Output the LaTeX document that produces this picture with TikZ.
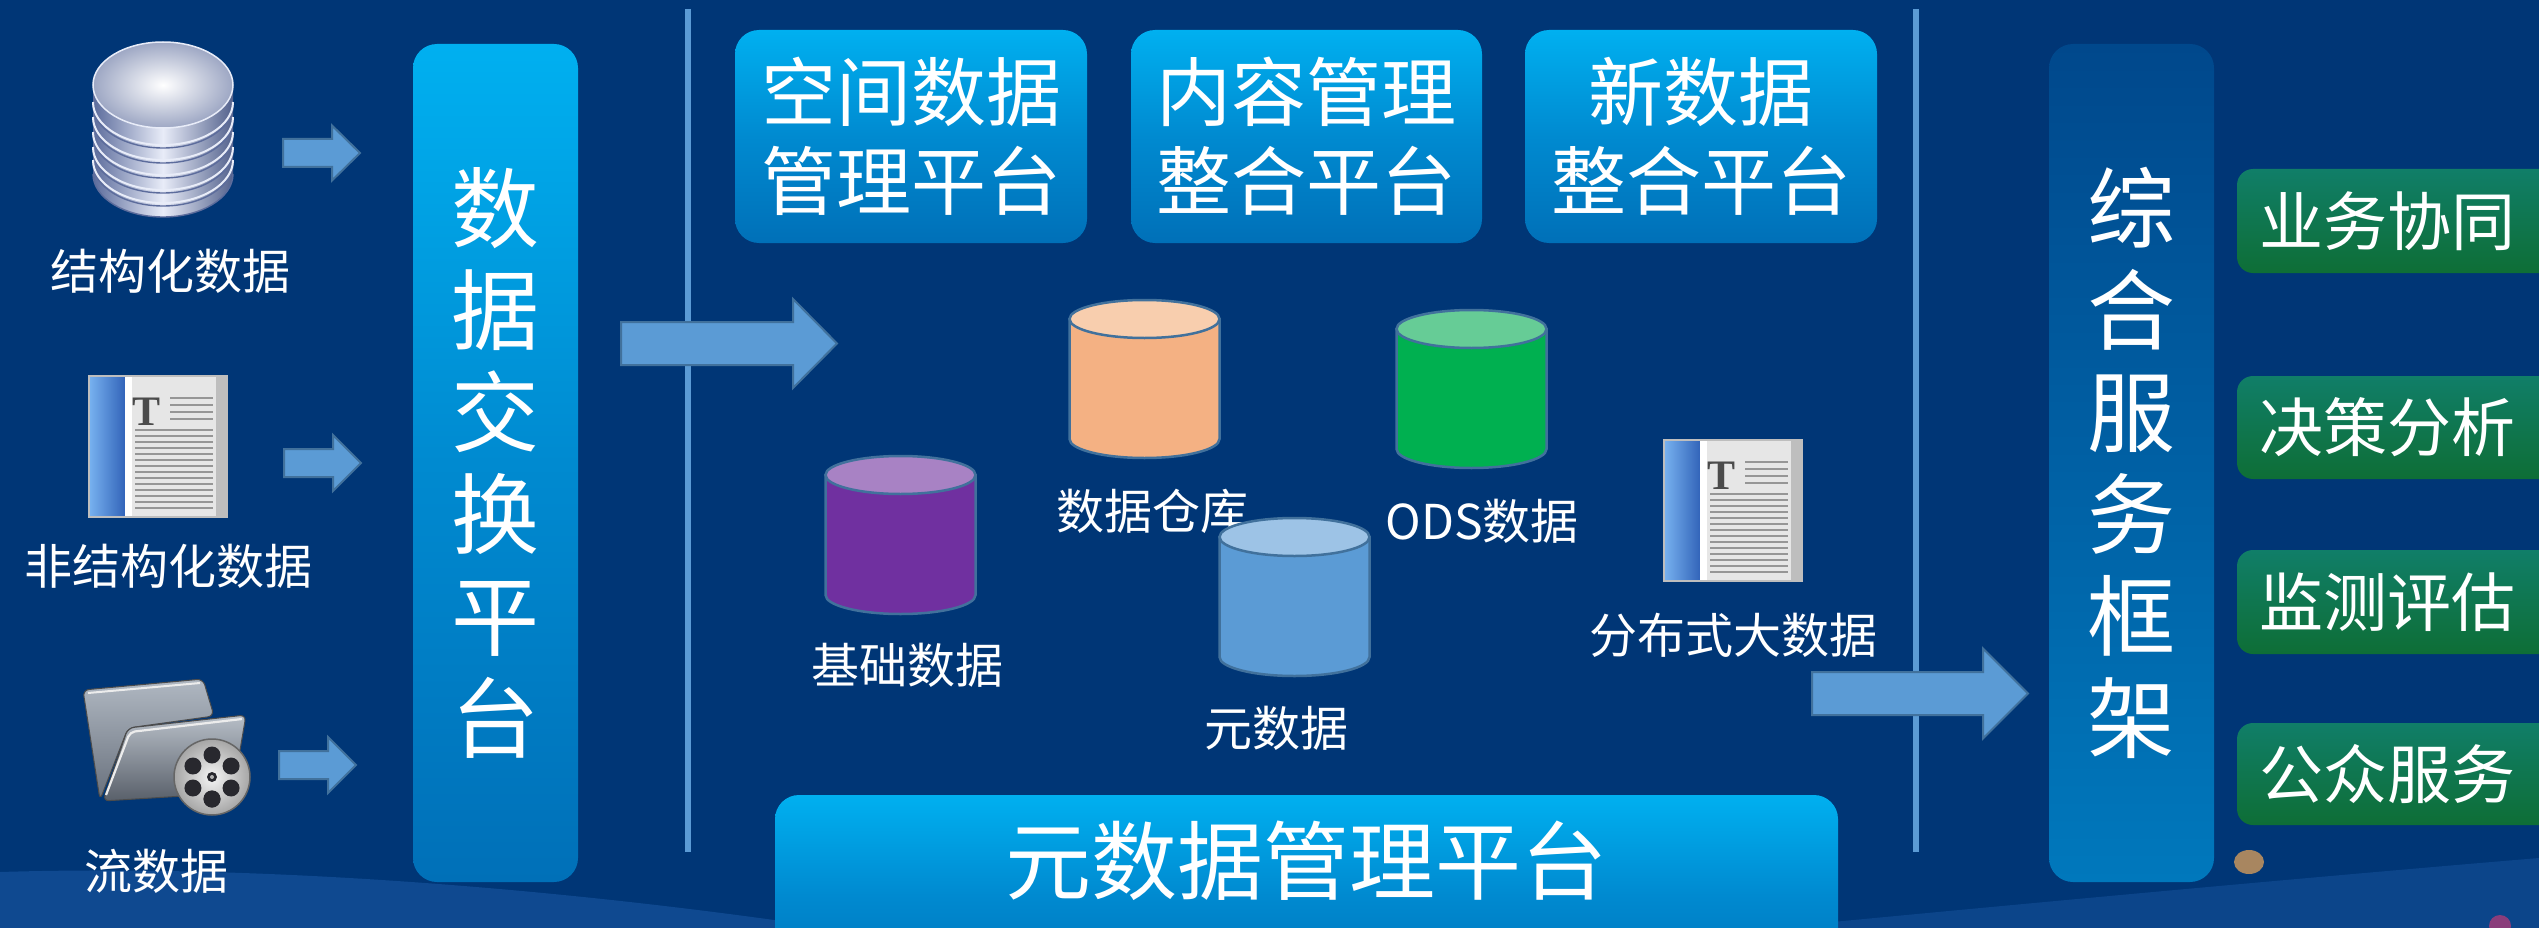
\documentclass[tikz,border=0pt]{standalone}
\usepackage{fontspec}
\setmainfont{Noto Sans CJK SC}
\newfontfamily\iconserif{Liberation Serif}

\definecolor{bgnavy}{RGB}{0,54,118}
\definecolor{swooshblue}{RGB}{30,92,170}
\definecolor{cyantop}{RGB}{0,176,240}
\definecolor{cyanmid}{RGB}{0,138,208}
\definecolor{cyanbot}{RGB}{0,112,184}
\definecolor{svctop}{RGB}{0,72,140}
\definecolor{svcbot}{RGB}{0,120,188}
\definecolor{greentop}{RGB}{16,126,104}
\definecolor{greenbot}{RGB}{14,110,54}
\definecolor{arrowfill}{RGB}{91,155,213}
\definecolor{arrowline}{RGB}{65,113,156}
\definecolor{cylline}{RGB}{65,113,156}
\definecolor{orangebody}{RGB}{244,177,131}
\definecolor{orangetop}{RGB}{248,206,174}
\definecolor{greenbody}{RGB}{0,176,80}
\definecolor{greentopface}{RGB}{102,204,150}
\definecolor{purplebody}{RGB}{112,48,160}
\definecolor{purpletop}{RGB}{168,130,196}
\definecolor{bluebody}{RGB}{91,155,213}
\definecolor{bluetop}{RGB}{157,195,230}
\definecolor{spinelight}{RGB}{120,178,240}
\definecolor{spinedark}{RGB}{50,100,185}
\definecolor{docpage}{RGB}{230,230,230}
\definecolor{docedge}{RGB}{190,190,190}
\definecolor{docink}{RGB}{75,75,75}
\definecolor{docrule}{RGB}{150,150,150}
\definecolor{silverlight}{RGB}{232,236,248}
\definecolor{silverdark}{RGB}{92,108,156}
\definecolor{folderlight}{RGB}{176,184,194}
\definecolor{folderdark}{RGB}{104,112,124}
\definecolor{reeldark}{RGB}{40,40,46}
\definecolor{dottan}{RGB}{168,134,96}
\definecolor{dotpink}{RGB}{170,60,120}

% block arrow: left x, centre y, head base x, tip x, half body height, half head height
\newcommand\blockarrow[6]{%
  \filldraw[blockarrow] (#1,{#2-#5}) -- (#3,{#2-#5}) -- (#3,{#2-#6}) -- (#4,#2)
    -- (#3,{#2+#6}) -- (#3,{#2+#5}) -- (#1,{#2+#5}) -- cycle;}

% upright data cylinder: centre x, centre y of top face, body colour, top colour
\newcommand\datacyl[4]{%
  \filldraw[cylside, fill=#3] ({#1-75},#2) -- ({#1-75},{#2+120})
    .. controls ({#1-75},{#2+130.5}) and ({#1-41.4},{#2+139}) .. (#1,{#2+139})
    .. controls ({#1+41.4},{#2+139}) and ({#1+75},{#2+130.5}) .. ({#1+75},{#2+120})
    -- ({#1+75},#2) -- cycle;
  \filldraw[cylside, fill=#4] (#1,#2) ellipse [x radius=75, y radius=19];}

\tikzset{
  docicon/.pic={
    \fill[docpage] (0,0) rectangle (138,141);
    \fill[docedge] (127,0) rectangle (138,141);
    \shade[left color=spinelight, right color=spinedark] (0,0) rectangle (36,141);
    \fill[white] (36,0) rectangle (43,141);
    \draw[docedge, line width=1.5pt] (0,0) rectangle (138,141);
    \foreach \yy in {22,29,36,43} \draw[docrule, line width=2.2pt] (81,\yy) -- (124,\yy);
    \foreach \yy in {54,60,...,132} \draw[docrule, line width=2.2pt] (46,\yy) -- (124,\yy);
    \node[text=docink, font=\iconserif\bfseries\fontsize{42}{42}\selectfont, inner sep=0pt] (glyph) at (57.5,36) {T};
  }
}

\begin{document}
\begin{tikzpicture}[x=1pt, y=-1pt,
  platform/.style={rounded corners=24pt, top color=cyantop, bottom color=cyanbot,
    middle color=cyanmid, text=white, inner sep=0pt, align=center},
  svcframe/.style={rounded corners=24pt, top color=svctop, bottom color=svcbot,
    text=white, inner sep=0pt, align=center},
  svcbox/.style={rounded corners=16pt, top color=greentop, bottom color=greenbot, inner sep=0pt},
  svctext/.style={text=white, font=\fontsize{64}{70}\selectfont, inner sep=0pt},
  lbl/.style={text=white, font=\fontsize{48}{56}\selectfont, inner sep=0pt},
  blockarrow/.style={fill=arrowfill, draw=arrowline, line width=2pt, line join=miter},
  divider/.style={draw=arrowfill, line width=6.5pt},
  cylside/.style={draw=cylline, line width=2.5pt},
  ring/.style={draw=silverlight, line width=2pt},
  ringshade/.style={draw=silverdark, line width=1.4pt}
]
\useasboundingbox (0,0) rectangle (2539,928);
\clip (0,0) rectangle (2539,928);

% ---- background ----
\fill[bgnavy] (0,0) rectangle (2539,928);
\fill[swooshblue, opacity=0.5] (0,872) .. controls (260,864) and (560,888) .. (830,928) -- (0,928) -- cycle;
\fill[swooshblue, opacity=0.4] (1770,928) .. controls (2020,904) and (2300,878) .. (2539,858) -- (2539,928) -- cycle;
\fill[dottan] (2249,862) ellipse [x radius=15, y radius=12];
\fill[dotpink, opacity=0.8] (2500,926) circle [radius=11];

% ---- dividers ----
\draw[divider] (688,9) -- (688,852);
\draw[divider] (1916,9) -- (1916,852);

% ---- sources ----
% stacked database
\shade[left color=silverdark, right color=silverdark!90!black, middle color=silverlight]
  (93,85) -- (93,174) .. controls (93,197.75) and (124.34,217) .. (163,217)
  .. controls (201.66,217) and (233,197.75) .. (233,174) -- (233,85) -- cycle;
\foreach \ry in {102,117,132,147,160} {
  \draw[ringshade] (93,{\ry+3}) .. controls (93,{\ry+26.75}) and (124.34,{\ry+46}) .. (163,{\ry+46})
    .. controls (201.66,{\ry+46}) and (233,{\ry+26.75}) .. (233,{\ry+3});
  \draw[ring] (93,\ry) .. controls (93,{\ry+23.75}) and (124.34,{\ry+43}) .. (163,{\ry+43})
    .. controls (201.66,{\ry+43}) and (233,{\ry+23.75}) .. (233,\ry);
}
\draw[ringshade] (93,174) .. controls (93,197.75) and (124.34,217) .. (163,217)
  .. controls (201.66,217) and (233,197.75) .. (233,174);
\shade[inner color=white, outer color=silverdark!60!white] (163,85) ellipse [x radius=70, y radius=43];
\draw[silverlight, line width=1.5pt] (163,85) ellipse [x radius=70, y radius=43];

% document
\pic (docA) at (89,376) {docicon};

% video folder
\shade[top color=folderlight, bottom color=folderdark, draw=black!70, line width=1pt, rounded corners=6pt]
  (83,690) -- (203,679) -- (214,716) -- (128,728) -- (100,800) -- cycle;
\shade[top color=folderlight!90!white, bottom color=folderdark!85!black, draw=black!70, line width=1pt, rounded corners=6pt]
  (128,728) -- (246,715) -- (238,762) -- (200,795) -- (103,801) -- cycle;
\draw[white!85!gray, line width=2.2pt, rounded corners=5pt] (106,795) -- (130,732) -- (242,719);
\draw[white!85!gray, line width=2pt, rounded corners=5pt] (88,693) -- (200,683);
\shade[inner color=white!92!gray, outer color=gray!70, draw=black!60, line width=1.5pt]
  (212,777) circle [radius=38];
\foreach \a in {90,150,...,450} \fill[reeldark] (212,777) ++(\a:22) circle [radius=8.5];
\fill[reeldark] (212,777) circle [radius=5];
\fill[gray!60] (212,777) circle [radius=2];

\node[lbl] (lblStruct) at (170,271) {结构化数据};
\node[lbl] (lblUnstruct) at (168,566) {非结构化数据};
\node[lbl] (lblStream) at (156,871) {流数据};

\blockarrow{283}{153}{332}{360}{14}{27.5}
\blockarrow{284}{463}{333}{361}{14}{28}
\blockarrow{279}{765}{328}{356}{14}{28}

% ---- exchange platform ----
\node[platform, minimum width=165pt, minimum height=838pt,
  font=\fontsize{88}{102}\selectfont] (exchange) at (495.5,463) {数\\据\\交\\换\\平\\台};

\blockarrow{621}{343.5}{793}{837}{21.5}{44.5}

% ---- integration platforms ----
\node[platform, minimum width=352pt, minimum height=213pt,
  font=\fontsize{75}{89}\selectfont] (spatial) at (911,136.5) {空间数据\\管理平台};
\node[platform, minimum width=351pt, minimum height=213pt,
  font=\fontsize{75}{89}\selectfont] (content) at (1306.5,136.5) {内容管理\\整合平台};
\node[platform, minimum width=352pt, minimum height=213pt,
  font=\fontsize{75}{89}\selectfont] (newdata) at (1701,136.5) {新数据\\整合平台};

% ---- data stores ----
\datacyl{1144.5}{319}{orangebody}{orangetop}
\datacyl{1471.5}{329}{greenbody}{greentopface}
\datacyl{900.5}{475}{purplebody}{purpletop}
\node[lbl] (lblWarehouse) at (1152,511) {数据仓库};
\node[lbl] (lblOds) at (1482,521) {ODS数据};
\datacyl{1294.5}{537}{bluebody}{bluetop}
\node[lbl] (lblBase) at (907,665) {基础数据};
\node[lbl] (lblMeta) at (1276,728) {元数据};

\pic (docB) at (1664,440) {docicon};
\node[lbl] (lblDist) at (1733,635) {分布式大数据};

% ---- metadata platform ----
\node[platform, minimum width=1063pt, minimum height=200pt] (metabox) at (1306.5,895) {};
\node[text=white, font=\fontsize{86}{96}\selectfont, inner sep=0pt] (metatext) at (1306,861) {元数据管理平台};

\blockarrow{1812}{693.5}{1983}{2028}{21.5}{45}

% ---- service framework ----
\node[svcframe, minimum width=165pt, minimum height=838pt,
  font=\fontsize{88}{102}\selectfont] (framework) at (2131.5,463) {综\\合\\服\\务\\框\\架};

\node[svcbox, minimum width=340pt, minimum height=104pt] (svcA) at (2407,221) {};
\node[svcbox, minimum width=340pt, minimum height=103pt] (svcB) at (2407,427.5) {};
\node[svcbox, minimum width=340pt, minimum height=104pt] (svcC) at (2407,602) {};
\node[svcbox, minimum width=340pt, minimum height=102pt] (svcD) at (2407,774) {};
\node[svctext] (svcAtext) at (2387,221) {业务协同};
\node[svctext] (svcBtext) at (2387,427.5) {决策分析};
\node[svctext] (svcCtext) at (2387,602) {监测评估};
\node[svctext] (svcDtext) at (2387,774) {公众服务};
\end{tikzpicture}
\end{document}
